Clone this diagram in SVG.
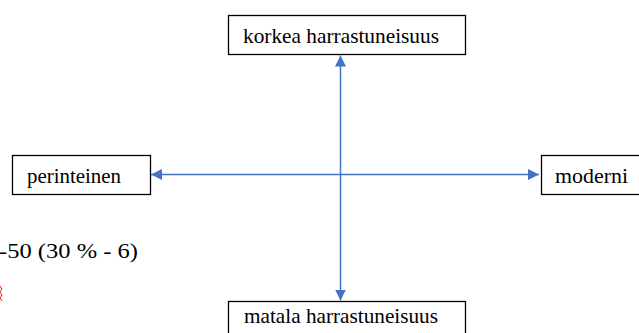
<svg xmlns="http://www.w3.org/2000/svg" width="639" height="333" viewBox="0 0 639 333">
<defs>
<style>
.box{fill:#fff;stroke:#000;stroke-width:1.3}
.lbl{font-family:'Liberation Serif',Tinos,'Times New Roman',serif;font-size:21px;fill:#000}
.conn{stroke:#4472C4;stroke-width:1.5;fill:none}
</style>
<marker id="ah" viewBox="0 0 10 10" refX="10" refY="5" markerWidth="11" markerHeight="11" markerUnits="userSpaceOnUse" orient="auto-start-reverse">
<path d="M0,0 L10,5 L0,10 z" fill="#4472C4"/>
</marker>
</defs>
<rect width="639" height="333" fill="#fff"/>
<g id="connectors">
<line class="conn" x1="340.5" y1="55.5" x2="340.5" y2="300.5" marker-start="url(#ah)" marker-end="url(#ah)"/>
<line class="conn" x1="151" y1="174.5" x2="539" y2="174.5" marker-start="url(#ah)" marker-end="url(#ah)"/>
</g>
<g id="korkea">
<rect class="box" x="228.5" y="15.5" width="237" height="39"/>
<text class="lbl" x="243" y="43" textLength="196" lengthAdjust="spacingAndGlyphs">korkea harrastuneisuus</text>
</g>
<g id="perinteinen">
<rect class="box" x="12.5" y="155.5" width="138" height="39"/>
<text class="lbl" x="27" y="183" textLength="94" lengthAdjust="spacingAndGlyphs">perinteinen</text>
</g>
<g id="moderni">
<rect class="box" x="541.5" y="155.5" width="110" height="39"/>
<text class="lbl" x="555" y="183" textLength="73" lengthAdjust="spacingAndGlyphs">moderni</text>
</g>
<g id="matala">
<rect class="box" x="228.5" y="301.5" width="237" height="45"/>
<text class="lbl" x="244" y="323" textLength="194" lengthAdjust="spacingAndGlyphs">matala harrastuneisuus</text>
</g>
<text class="lbl" x="-1" y="258" textLength="139" lengthAdjust="spacingAndGlyphs">-50 (30 % - 6)</text>
<path d="M0,286 L2,289 L0,292 L2,295 L0,298 L2,301" stroke="#e02020" stroke-width="1" fill="none"/>
</svg>
